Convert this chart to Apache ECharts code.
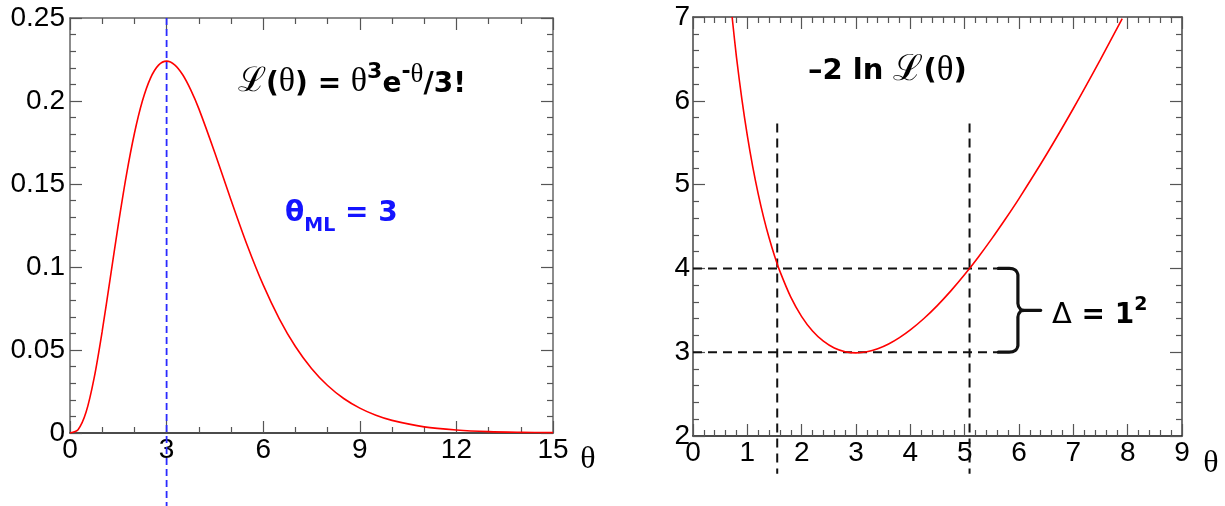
<!DOCTYPE html>
<html><head><meta charset="utf-8">
<script src="https://cdn.jsdelivr.net/npm/echarts@6/dist/echarts.min.js"></script>
<style>html,body{margin:0;padding:0;background:#fff}#c{width:1225px;height:506px}</style>
</head><body><div id="c"></div>
<script>
// ---- data ----
const leftTheta = [0,0.25,0.5,0.75,1,1.25,1.5,1.75,2,2.25,2.5,2.75,3,3.25,3.5,3.75,4,4.5,5,5.5,6,6.5,7,7.5,8,8.5,9,9.5,10,11,12,13,14,15];
const leftLikelihood = [0,0.0020,0.0126,0.0332,0.0613,0.0933,0.1255,0.1552,0.1804,0.2001,0.2138,0.2216,0.2240,0.2218,0.2158,0.2067,0.1954,0.1687,0.1404,0.1133,0.0892,0.0688,0.0521,0.0389,0.0286,0.0208,0.0150,0.0107,0.0076,0.0037,0.0018,0.0008,0.0004,0.0002];
const rightTheta = [0.72,0.8,0.9,1.0,1.1,1.2,1.3,1.4,1.5,1.6,1.8,2.0,2.2,2.4,2.6,2.8,3.0,3.2,3.4,3.6,3.8,4.0,4.25,4.5,4.75,5.0,5.25,5.5,5.75,6.0,6.5,7.0,7.5,7.9];
const rightNegLogL = [7.000,6.522,6.016,5.584,5.212,4.890,4.609,4.365,4.151,3.964,3.657,3.425,3.253,3.131,3.050,3.006,2.992,3.005,3.041,3.098,3.174,3.266,3.402,3.559,3.735,3.927,4.134,4.355,4.589,4.833,5.353,5.908,6.494,6.982];
const leftXTickLabels = ['0','3','6','9','12','15'];
const leftYTickLabels = ['0','0.05','0.1','0.15','0.2','0.25'];
const rightXTickLabels = ['0','1','2','3','4','5','6','7','8','9'];
const rightYTickLabels = ['2','3','4','5','6','7'];
const thetaML = 3;
const mlLineY = [0.25, -0.044];          // blue dashed line extent (runs below the frame)
const intervalEdges = [1.55, 5.09];      // where -2lnL = min + 1
const intervalLineY = [5.73, 1.55];      // vertical dashed extent
const nllLevels = [4, 3];                // horizontal dashed levels
const levelLineX = [0, 5.62];
const braceX = [5.62,5.82,5.93,5.98,5.98,6.03,6.10,6.40,6.10,6.03,5.98,5.98,5.93,5.82,5.62];
const braceY = [4.00,4.00,3.98,3.92,3.58,3.51,3.50,3.50,3.50,3.49,3.42,3.08,3.02,3.00,3.00];

const zip = (a, b) => a.map((v, i) => [v, b[i]]);
const LBL = {fontFamily: 'Liberation Sans', fontSize: 28, color: '#000'};
const TF = 'DejaVu Sans';

function axis(grid, pos, min, max, interval, minorSplit, labels, showLabels, lineColor, margin) {
  return {
    type: 'value', gridIndex: grid, position: pos, min, max, interval,
    axisLine: {show: true, onZero: false, lineStyle: {color: lineColor, width: 1.5}},
    axisTick: {show: true, inside: true, length: 12, lineStyle: {color: '#555', width: 1.2}},
    minorTick: {show: true, splitNumber: minorSplit, length: 6, lineStyle: {color: '#555', width: 1.2}},
    splitLine: {show: false},
    axisLabel: Object.assign({show: showLabels, margin,
      formatter: v => labels[Math.round((v - min) / interval)]}, LBL)
  };
}

const chart = echarts.init(document.getElementById('c'), null, {renderer: 'canvas'});
chart.setOption({
  animation: false,
  backgroundColor: '#fff',
  grid: [
    {left: 70, top: 18, width: 483, height: 415, outerBoundsMode: 'none', containLabel: false},
    {left: 693, top: 17, width: 489, height: 419, outerBoundsMode: 'none', containLabel: false}
  ],
  xAxis: [
    axis(0, 'bottom', 0, 15, 3, 3, leftXTickLabels, true, '#111', 3),
    axis(0, 'top', 0, 15, 3, 3, leftXTickLabels, false, '#666', 3),
    axis(1, 'bottom', 0, 9, 1, 5, rightXTickLabels, true, '#111', 3),
    axis(1, 'top', 0, 9, 1, 5, rightXTickLabels, false, '#444', 3)
  ],
  yAxis: [
    axis(0, 'left', 0, 0.25, 0.05, 5, leftYTickLabels, true, '#666', 5),
    axis(0, 'right', 0, 0.25, 0.05, 5, leftYTickLabels, false, '#666', 5),
    axis(1, 'left', 2, 7, 1, 5, rightYTickLabels, true, '#444', 3),
    axis(1, 'right', 2, 7, 1, 5, rightYTickLabels, false, '#444', 3)
  ],
  series: [
    {type: 'line', xAxisIndex: 0, yAxisIndex: 0, data: zip(leftTheta, leftLikelihood),
     showSymbol: false, smooth: 0.3, lineStyle: {color: '#ff0000', width: 1.6}, z: 3},
    {type: 'line', xAxisIndex: 0, yAxisIndex: 0, clip: false,
     data: [[thetaML, mlLineY[0]], [thetaML, mlLineY[1]]],
     showSymbol: false, lineStyle: {color: '#2a2aff', width: 1.8, type: [7, 4]}, z: 2},
    {type: 'line', xAxisIndex: 2, yAxisIndex: 2, data: zip(rightTheta, rightNegLogL),
     showSymbol: false, smooth: 0.3, lineStyle: {color: '#ff0000', width: 1.6}, z: 3},
    ...intervalEdges.map(x => ({type: 'line', xAxisIndex: 2, yAxisIndex: 2, clip: false,
     data: [[x, intervalLineY[0]], [x, intervalLineY[1]]], showSymbol: false,
     lineStyle: {color: '#111', width: 2, type: [9, 6]}, z: 2})),
    ...nllLevels.map(y => ({type: 'line', xAxisIndex: 2, yAxisIndex: 2,
     data: [[levelLineX[0], y], [levelLineX[1], y]], showSymbol: false,
     lineStyle: {color: '#111', width: 2, type: [9, 6]}, z: 2})),
    {type: 'line', xAxisIndex: 2, yAxisIndex: 2, data: zip(braceX, braceY), showSymbol: false,
     smooth: 0.25, lineStyle: {color: '#111', width: 3.2, join: 'round', cap: 'round'}, z: 2}
  ],
  graphic: [
    {type: 'text', x: 238, y: 80, z: 10, style: {
      text: '{L|ℒ}{b|(}{t|θ}{b|) = }{t|θ}{s|3}{b|e}{s|-}{st|θ}{b|/3!}',
      verticalAlign: 'middle', align: 'left',
      rich: {
        L: {fontFamily: 'DejaVu Serif', fontSize: 34, lineHeight: 38, verticalAlign: 'bottom', fill: '#000'},
        b: {fontFamily: TF, fontWeight: 'bold', fontSize: 28, lineHeight: 38, verticalAlign: 'bottom', fill: '#000'},
        t: {fontFamily: 'Liberation Serif', fontSize: 34, lineHeight: 38, verticalAlign: 'bottom', fill: '#000'},
        s: {fontFamily: TF, fontWeight: 'bold', fontSize: 22, lineHeight: 22, verticalAlign: 'top', fill: '#000'},
        st: {fontFamily: 'Liberation Serif', fontSize: 27, lineHeight: 22, verticalAlign: 'top', fill: '#000'}
      }}},
    {type: 'text', x: 285, y: 218, z: 10, style: {
      text: '{t|θ}{sub|ML}{b| = 3}', verticalAlign: 'middle', align: 'left',
      rich: {
        t: {fontFamily: TF, fontWeight: 'bold', fontSize: 28, lineHeight: 36, verticalAlign: 'top', fill: '#1414ff'},
        sub: {fontFamily: TF, fontWeight: 'bold', fontSize: 19, lineHeight: 19, verticalAlign: 'bottom', fill: '#1414ff'},
        b: {fontFamily: TF, fontWeight: 'bold', fontSize: 28, lineHeight: 36, verticalAlign: 'top', fill: '#1414ff'}
      }}},
    {type: 'text', x: 808, y: 71, z: 10, style: {
      text: '{b|–2 ln }{L|ℒ}{b|(}{t|θ}{b|)}', verticalAlign: 'middle', align: 'left',
      rich: {
        b: {fontFamily: TF, fontWeight: 'bold', fontSize: 29, fill: '#000'},
        L: {fontFamily: 'DejaVu Serif', fontSize: 36, fill: '#000'},
        t: {fontFamily: 'Liberation Serif', fontSize: 35, fill: '#000'}
      }}},
    {type: 'text', x: 1052, y: 313, z: 10, style: {
      text: '{d|Δ}{b| = 1}{s|2}', verticalAlign: 'middle', align: 'left',
      rich: {
        d: {fontFamily: 'DejaVu Sans', fontSize: 29, lineHeight: 34, verticalAlign: 'bottom', fill: '#000'},
        b: {fontFamily: TF, fontWeight: 'bold', fontSize: 28, lineHeight: 34, verticalAlign: 'bottom', fill: '#000'},
        s: {fontFamily: TF, fontWeight: 'bold', fontSize: 19, lineHeight: 19, verticalAlign: 'top', fill: '#000'}
      }}},
    {type: 'text', x: 588, y: 460, z: 10, style: {text: 'θ', fontFamily: 'Liberation Serif', fontSize: 32, fill: '#000', align: 'center', verticalAlign: 'middle'}},
    {type: 'text', x: 1211, y: 464, z: 10, style: {text: 'θ', fontFamily: 'Liberation Serif', fontSize: 32, fill: '#000', align: 'center', verticalAlign: 'middle'}}
  ]
});
</script></body></html>
